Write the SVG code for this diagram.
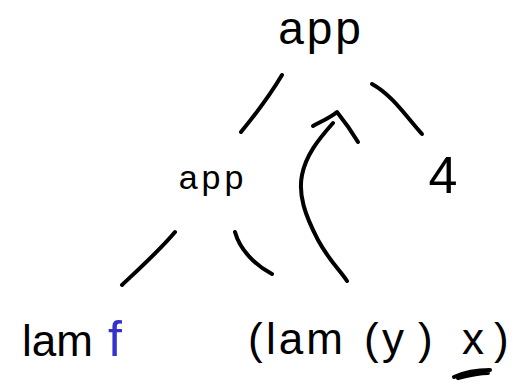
<svg xmlns="http://www.w3.org/2000/svg" width="520" height="385" viewBox="0 0 520 385">
  <style>
    .lbl { font-family: "Liberation Sans", "DejaVu Sans", sans-serif; fill: #000; }
    .edge { fill: none; stroke: #000; stroke-width: 4; stroke-linecap: round; stroke-linejoin: round; }
  </style>
  <rect width="520" height="385" fill="#fff"/>

  <g id="app-root">
    <text class="lbl" x="321" y="44" font-size="46" letter-spacing="3" text-anchor="middle">app</text>
  </g>
  <g id="app-inner">
    <text class="lbl" x="213" y="189" font-size="34" letter-spacing="4" text-anchor="middle">app</text>
  </g>
  <g id="num-4">
    <text class="lbl" x="443" y="193" font-size="52" text-anchor="middle">4</text>
  </g>
  <g id="lam-f">
    <text class="lbl" x="22" y="356" font-size="44">lam<tspan x="108" font-size="50" fill="#3333cc">f</tspan></text>
  </g>
  <g id="lam-y-x">
    <text class="lbl" y="354" font-size="44"><tspan x="248">(</tspan><tspan x="266" letter-spacing="3">lam</tspan><tspan x="364">(</tspan><tspan x="382">y</tspan><tspan x="418">)</tspan><tspan x="462">x</tspan><tspan x="494">)</tspan></text>
    <path class="edge" d="M454 377 C465 372 478 370 490 370 M458 378 C470 375 480 373 488 373" stroke-width="5"/>
  </g>

  <g id="connectors">
    <path class="edge" d="M282 75 C270 95 255 115 241 132"/>
    <path class="edge" d="M372 84 C392 95 405 115 422 134"/>
    <path class="edge" d="M175 232 C160 250 140 268 122 285"/>
    <path class="edge" d="M235 232 C240 250 255 265 272 274"/>
    <path class="edge" d="M347 281 C340 270 330 262 318 240 C305 215 298 195 302 175 C306 155 318 140 333 123"/>
    <path class="edge" d="M313 126 C320 122 330 118 337 112 C345 122 352 132 358 142"/>
  </g>
</svg>
